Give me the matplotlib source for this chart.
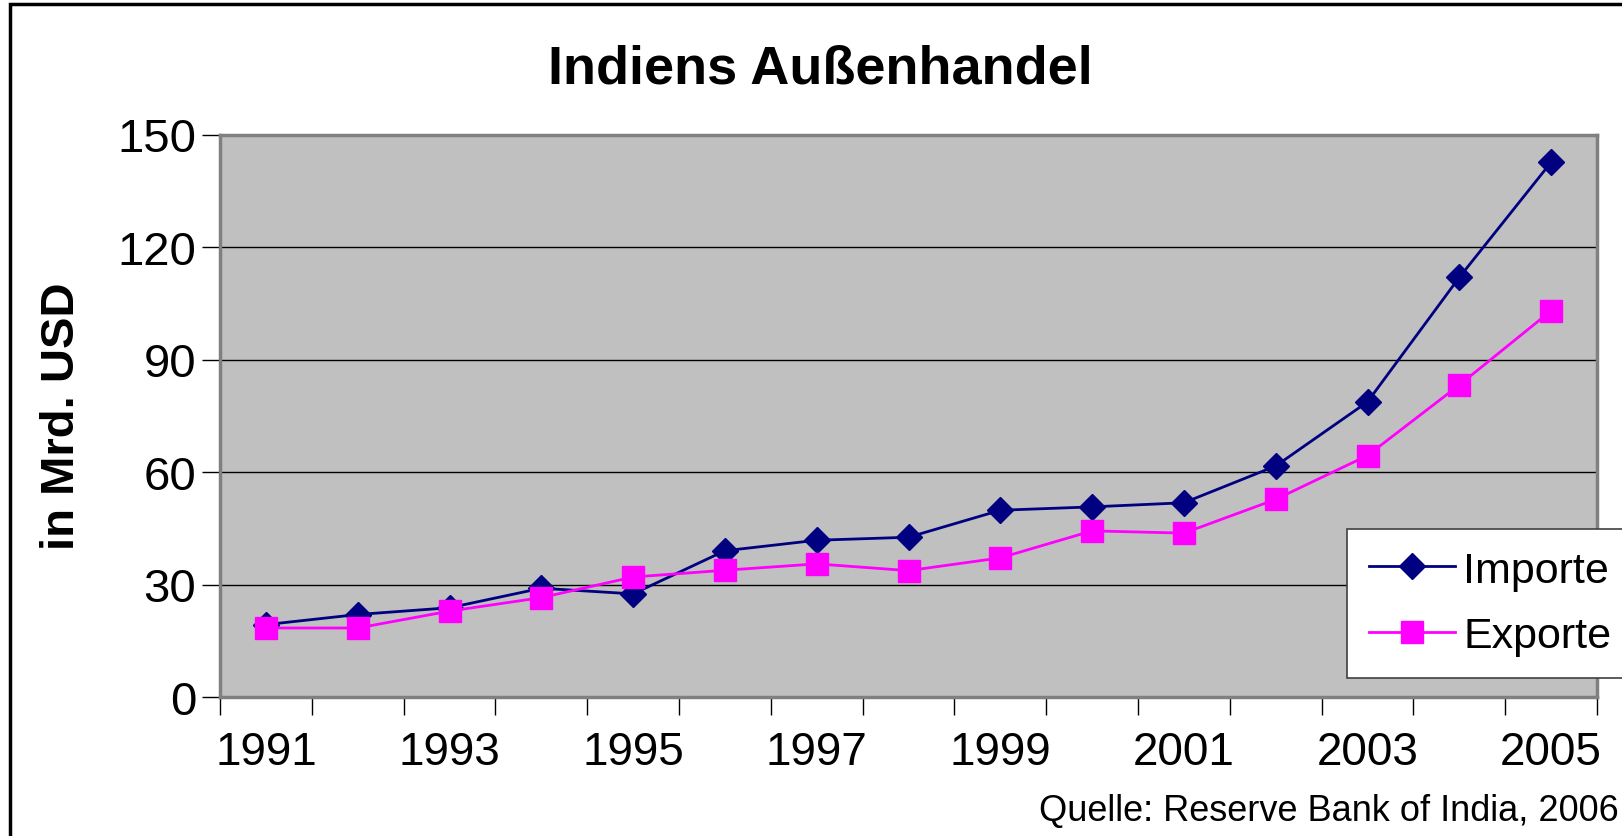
import numpy as np
import matplotlib.pyplot as plt
from matplotlib.patches import Rectangle

plt.rcParams['font.family'] = ['Liberation Sans', 'DejaVu Sans']

# data (Mrd. USD)
years = [1991, 1992, 1993, 1994, 1995, 1996, 1997, 1998,
         1999, 2000, 2001, 2002, 2003, 2004, 2005]
importe = [19.3, 22.0, 23.8, 29.0, 27.5, 39.0, 41.8, 42.6,
           49.8, 50.7, 51.8, 61.6, 78.7, 111.9, 142.6]
exporte = [18.4, 18.4, 22.9, 26.5, 32.0, 33.8, 35.5, 33.7,
           37.1, 44.3, 43.7, 52.7, 64.4, 83.2, 103.0]
y_ticks = [0, 30, 60, 90, 120, 150]

fig = plt.figure(figsize=(16.22, 8.37), dpi=100)
ax = fig.add_axes([220 / 1622, 1 - 698 / 837, 1377 / 1622, 562.5 / 837])

x = np.arange(len(years))
ax.set_facecolor('#C0C0C0')
ax.plot(x, importe, color='#000080', lw=2, marker='D', ms=13,
        label='Importe', zorder=3)
ax.plot(x, exporte, color='#FF00FF', lw=2, marker='s', ms=16,
        label='Exporte', zorder=3)

ax.set_xlim(-0.5, len(years) - 0.5)
ax.set_ylim(0, 150)
ax.set_yticks(y_ticks)
ax.yaxis.grid(True, color='black', lw=1)
ax.set_axisbelow(True)

# category axis: ticks between categories, labels every other year
ax.set_xticks(np.arange(-0.5, len(years), 1.0))
ax.set_xticklabels([])
ax.set_xticks(x[::2], minor=True)
ax.set_xticklabels([str(y) for y in years[::2]], minor=True)
ax.tick_params(axis='x', which='major', length=13, width=1, direction='out')
ax.tick_params(axis='x', which='minor', length=0, pad=24, labelsize=33)
ax.tick_params(axis='y', length=13, width=1, pad=4, labelsize=34)

for s in ax.spines.values():
    s.set_color('#808080')
    s.set_linewidth(2.5)

ax.set_ylabel('in Mrd. USD', fontsize=34, fontweight='bold', labelpad=24)

fig.text(0.506, 1 - 70 / 837, 'Indiens Außenhandel', ha='center',
         va='center', fontsize=39, fontweight='bold')
fig.text(1619 / 1622, 1 - 812 / 837, 'Quelle: Reserve Bank of India, 2006',
         ha='right', va='center', fontsize=26)

leg = ax.legend(loc='upper left', bbox_to_anchor=(1347 / 1622, 1 - 530 / 837),
                bbox_transform=fig.transFigure, fontsize=31, frameon=True,
                fancybox=False, edgecolor='#404040', framealpha=1,
                facecolor='white', borderpad=0.5,
                handlelength=2.0, handletextpad=0.2, labelspacing=0.6,
                borderaxespad=0)
leg.get_frame().set_linewidth(1.2)

# outer chart border
fig.patches.append(Rectangle((10 / 1622, -0.05), 1.1, 1 - 5 / 837 + 0.05,
                             transform=fig.transFigure, fill=False,
                             edgecolor='black', lw=2.5))

fig.savefig('out.png', dpi=100)
